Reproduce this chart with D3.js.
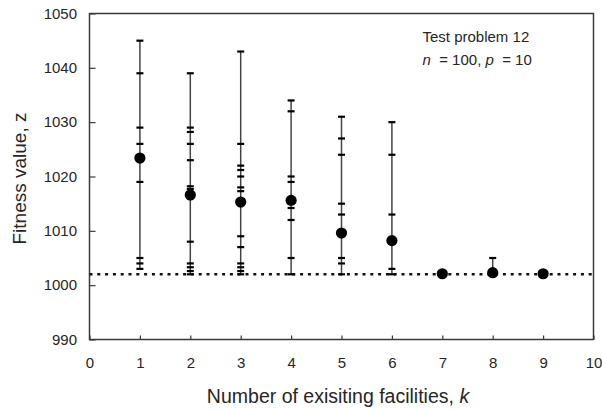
<!DOCTYPE html>
<html>
<head>
<meta charset="utf-8">
<script src="https://cdn.jsdelivr.net/npm/d3@7"></script>
<style>
  html, body { margin: 0; padding: 0; background: #fff; }
  svg { display: block; }
  text { font-family: "Liberation Sans", Arial, sans-serif; fill: #262626; }
</style>
</head>
<body>
<svg id="chart" width="602" height="410"></svg>
<script>
// ---- data ----
const kValues = [1, 2, 3, 4, 5, 6, 7, 8, 9];
const meanFitness = [1023.4, 1016.6, 1015.3, 1015.6, 1009.6, 1008.2, 1002.1, 1002.3, 1002.1];
// individual run results shown as short dashes along each bar
const runResults = [
  [1045, 1039, 1029, 1026, 1019, 1005, 1004, 1003],
  [1039, 1029, 1028.2, 1026, 1023, 1018.2, 1017.7, 1008, 1004, 1003.3, 1002.6, 1002],
  [1043, 1026, 1022, 1021.2, 1020, 1018, 1017.3, 1009, 1007, 1004, 1003.3, 1002.6, 1002],
  [1034, 1032, 1020, 1019, 1014.2, 1012, 1005, 1002],
  [1031, 1027, 1024, 1015, 1013, 1005, 1004, 1002],
  [1030, 1024, 1013, 1003, 1002],
  [],
  [1005],
  []
];
const bestKnown = 1002;
const xTickValues = [0, 1, 2, 3, 4, 5, 6, 7, 8, 9, 10];
const yTickValues = [990, 1000, 1010, 1020, 1030, 1040, 1050];

// ---- layout ----
const svg = d3.select("#chart");
const L = 89.5, R = 593.5, T = 13.5, B = 339.5;
const x = d3.scaleLinear().domain([0, 10]).range([L, R]);
const y = d3.scaleLinear().domain([990, 1050]).range([B, T]);

const axisColor = "#3a3a3a";

// x axis
const gx = svg.append("g").attr("transform", `translate(0,${B})`)
  .call(d3.axisBottom(x).tickValues(xTickValues).tickFormat(d3.format("d"))
    .tickSize(-4).tickPadding(18));
gx.select(".domain").remove();
gx.selectAll("line").attr("stroke", axisColor).attr("stroke-width", 1.2);
gx.selectAll("text").attr("font-size", 15).attr("font-family", "Liberation Sans, Arial, sans-serif").attr("fill", "#262626");

// y axis
const gy = svg.append("g").attr("transform", `translate(${L},0)`)
  .call(d3.axisLeft(y).tickValues(yTickValues).tickFormat(d3.format("d"))
    .tickSize(-6).tickPadding(12.5));
gy.select(".domain").remove();
gy.selectAll("line").attr("stroke", axisColor).attr("stroke-width", 1.2);
gy.selectAll("text").attr("font-size", 15).attr("font-family", "Liberation Sans, Arial, sans-serif").attr("fill", "#262626");

// frame
svg.append("rect")
  .attr("x", L).attr("y", T).attr("width", R - L).attr("height", B - T)
  .attr("fill", "none").attr("stroke", axisColor).attr("stroke-width", 1.5);

// dotted best-known line
svg.append("line")
  .attr("x1", x(0)).attr("x2", x(10))
  .attr("y1", y(bestKnown)).attr("y2", y(bestKnown))
  .attr("stroke", "#111").attr("stroke-width", 2.6)
  .attr("stroke-dasharray", "3,4.8");

const rows = kValues.map((k, i) => {
  const vals = runResults[i].concat([meanFitness[i]]);
  return { k, mean: meanFitness[i], runs: runResults[i], lo: d3.min(vals), hi: d3.max(vals) };
});

// vertical range lines
svg.append("g").selectAll("line").data(rows.filter(d => d.hi > d.lo)).join("line")
  .attr("x1", d => x(d.k)).attr("x2", d => x(d.k))
  .attr("y1", d => y(d.lo)).attr("y2", d => y(d.hi))
  .attr("stroke", "#444").attr("stroke-width", 1.5);

// run dashes
const dashes = rows.flatMap(d => d.runs.map(v => ({ k: d.k, v })));
svg.append("g").selectAll("line").data(dashes).join("line")
  .attr("x1", d => x(d.k) - 3.5).attr("x2", d => x(d.k) + 3.5)
  .attr("y1", d => y(d.v)).attr("y2", d => y(d.v))
  .attr("stroke", "#000").attr("stroke-width", 2.2);

// mean points
svg.append("g").selectAll("circle").data(rows).join("circle")
  .attr("cx", d => x(d.k)).attr("cy", d => y(d.mean)).attr("r", 5.6)
  .attr("fill", "#000");

// axis titles
svg.append("text")
  .attr("x", 338).attr("y", 403)
  .attr("text-anchor", "middle").attr("font-size", 19.5)
  .call(t => {
    t.append("tspan").text("Number of exisiting facilities, ");
    t.append("tspan").attr("font-style", "italic").text("k");
  });

svg.append("text")
  .attr("transform", `translate(26,${178.5}) rotate(-90)`)
  .attr("text-anchor", "middle").attr("font-size", 19)
  .text("Fitness value, z");

// annotation
svg.append("text").attr("x", 422.5).attr("y", 41.5).attr("font-size", 15)
  .text("Test problem 12");
const ann = svg.append("text").attr("x", 422.5).attr("y", 64.5).attr("font-size", 15)
  .style("white-space", "pre");
ann.append("tspan").attr("font-style", "italic").text("n");
ann.append("tspan").text("  = 100, ");
ann.append("tspan").attr("font-style", "italic").text("p");
ann.append("tspan").text("  = 10");
</script>
</body>
</html>
